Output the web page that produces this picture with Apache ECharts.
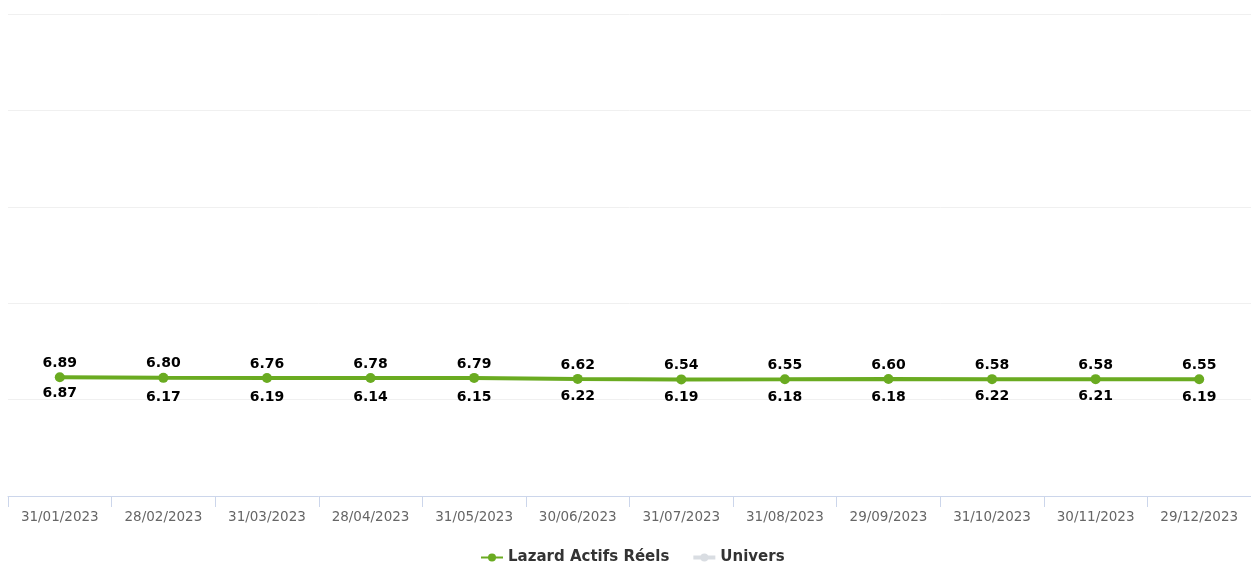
<!DOCTYPE html>
<html>
<head>
<meta charset="utf-8">
<script src="https://cdn.jsdelivr.net/npm/echarts@6/dist/echarts.min.js"></script>
<style>
html,body{margin:0;padding:0;background:#fff;}
#chart{width:1251px;height:562px;}
</style>
</head>
<body>
<div id="chart"></div>
<script>
const categories = ['31/01/2023','28/02/2023','31/03/2023','28/04/2023','31/05/2023','30/06/2023','31/07/2023','31/08/2023','29/09/2023','31/10/2023','30/11/2023','29/12/2023'];
const lazardValues = [6.89,6.80,6.76,6.78,6.79,6.62,6.54,6.55,6.60,6.58,6.58,6.55];
const universValues = [6.87,6.17,6.19,6.14,6.15,6.22,6.19,6.18,6.18,6.22,6.21,6.19];
const gridTicks = [0,1,2,3,4,5];

const chart = echarts.init(document.getElementById('chart'));
const font = 'DejaVu Sans';
chart.setOption({
  animation: false,
  backgroundColor: '#ffffff',
  grid: {left: 8, width: 1248, top: 14, bottom: 66, containLabel: false},
  legend: {
    top: 550,
    left: 480,
    padding: 0,
    itemWidth: 22,
    itemHeight: 10,
    itemGap: 22,
    textStyle: {fontFamily: font, fontSize: 15, fontWeight: 'bold', color: '#333333'},
    data: [
      {name: 'Lazard Actifs Réels'},
      {name: 'Univers', itemStyle: {color: '#d9dde2', opacity: 1}, lineStyle: {color: '#d9dde2', opacity: 1, width: 4}}
    ]
  },
  xAxis: {
    type: 'category',
    data: categories,
    boundaryGap: true,
    axisLine: {lineStyle: {color: '#ccd6eb', width: 1}},
    axisTick: {show: true, alignWithLabel: false, length: 11, lineStyle: {color: '#ccd6eb'}},
    axisLabel: {fontFamily: font, fontSize: 13.5, color: '#666666', margin: 14, interval: 0},
    splitLine: {show: false}
  },
  yAxis: [
    {
      type: 'value', min: gridTicks[0], max: gridTicks[gridTicks.length - 1], interval: 1,
      axisLabel: {show: false}, axisLine: {show: false}, axisTick: {show: false},
      splitLine: {show: true, lineStyle: {color: '#f0f0f0', width: 1}}
    },
    {
      type: 'value', min: -13.3, max: 68.7,
      axisLabel: {show: false}, axisLine: {show: false}, axisTick: {show: false},
      splitLine: {show: false}
    }
  ],
  series: [
    {
      name: 'Univers',
      type: 'line',
      yAxisIndex: 1,
      data: universValues,
      symbol: 'circle',
      symbolSize: 1,
      showSymbol: true,
      itemStyle: {color: 'rgba(0,0,0,0)'},
      lineStyle: {color: 'rgba(0,0,0,0)', width: 0},
      label: {
        show: true, position: 'bottom', distance: 8,
        formatter: p => p.value.toFixed(2),
        fontFamily: font, fontSize: 14, fontWeight: 'bold', color: '#000000'
      },
      z: 1
    },
    {
      name: 'Lazard Actifs Réels',
      type: 'line',
      yAxisIndex: 1,
      data: lazardValues,
      symbol: 'circle',
      symbolSize: 10,
      itemStyle: {color: '#6aab21'},
      lineStyle: {color: '#6aab21', width: 4},
      label: {
        show: true, position: 'top', distance: 2,
        formatter: p => p.value.toFixed(2),
        fontFamily: font, fontSize: 14, fontWeight: 'bold', color: '#000000'
      },
      z: 3
    }
  ]
});
</script>
</body>
</html>
